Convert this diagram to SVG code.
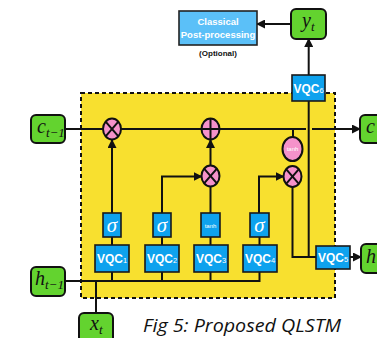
<svg xmlns="http://www.w3.org/2000/svg" width="377" height="338" viewBox="0 0 377 338">
<style>
.ln{fill:none;stroke:#111;stroke-width:2}
.arr{fill:none;stroke:#111;stroke-width:2;marker-end:url(#ah)}
.gn{fill:#63D32F;stroke:#111;stroke-width:2}
.vqc{fill:#0EA2EE;stroke:#1a1a1a;stroke-width:1.6}
.op{fill:#F592CA;stroke:#111;stroke-width:2}
.vt{font-family:"Liberation Sans",Arial,sans-serif;font-size:12px;font-weight:bold;fill:#fff;text-anchor:middle}
.sg{font-family:"Liberation Serif","DejaVu Serif",serif;font-style:italic;font-size:21px;fill:#fff;text-anchor:middle}
.th{font-family:"Liberation Sans",Arial,sans-serif;font-size:6px;fill:#fff;text-anchor:middle}
.mt{font-family:"Liberation Serif","DejaVu Serif",serif;font-style:italic;font-size:20px;fill:#111}
</style>
<defs>
<marker id="ah" markerUnits="userSpaceOnUse" markerWidth="9" markerHeight="9" refX="8" refY="4.5" orient="auto">
<path d="M0,0 L9,4.5 L0,9 z" fill="#111"/>
</marker>
<g id="mul"><ellipse class="op" cx="0" cy="0" rx="9" ry="10.5"/><path class="ln" d="M-6.4,-7.4 L6.4,7.4 M6.4,-7.4 L-6.4,7.4"/></g>
<g id="plus"><ellipse class="op" cx="0" cy="0" rx="9" ry="10.5"/><path class="ln" d="M0,-10.5 V10.5 M-9,0 H9"/></g>
</defs>

<rect x="81" y="93" width="254" height="205" fill="#F8E02F" stroke="#111" stroke-width="2" stroke-dasharray="4,3"/>

<g id="connectors">
<path class="arr" d="M65,129 H306 M312,129 H360"/>
<path class="arr" d="M112,213 V140"/>
<path class="ln" d="M112,245 V237"/>
<path class="arr" d="M162,213 V176.5 H201.5"/>
<path class="ln" d="M162,245 V237"/>
<path class="ln" d="M210.5,213 V187"/>
<path class="ln" d="M210.5,245 V237"/>
<path class="arr" d="M210.5,165.5 V140"/>
<path class="arr" d="M259,213 V176.5 H283.5"/>
<path class="ln" d="M259.5,245 V237"/>
<path class="ln" d="M293,129 V137"/>
<path class="ln" d="M292.5,187 V257 H316"/>
<path class="ln" d="M308.7,101 V257"/>
<path class="arr" d="M308.7,75 V39"/>
<path class="arr" d="M291,24 H257"/>
<path class="arr" d="M350,257 H361"/>
<path class="ln" d="M65,281 H259.5 V272 M112,272 V281 M162,272 V281 M210.5,272 V281"/>
<path class="ln" d="M96,313 V281"/>
</g>

<g id="c_prev"><rect class="gn" x="31" y="115" width="34" height="28" rx="5"/><text class="mt" x="37" y="133">c<tspan font-size="13" dy="4">t−1</tspan></text></g>
<g id="c_t"><rect class="gn" x="360" y="115" width="40" height="28" rx="5"/><text class="mt" x="366" y="133">c</text></g>
<g id="h_prev"><rect class="gn" x="31" y="267" width="34" height="29" rx="5"/><text class="mt" x="35" y="285">h<tspan font-size="13" dy="4">t−1</tspan></text></g>
<g id="h_t"><rect class="gn" x="361" y="244" width="40" height="29" rx="5"/><text class="mt" x="366" y="263">h</text></g>
<g id="x_t"><rect class="gn" x="79" y="313" width="34" height="32" rx="5"/><text class="mt" x="90" y="330">x<tspan font-size="13" dy="4">t</tspan></text></g>
<g id="y_t"><rect class="gn" x="291" y="9" width="35" height="30" rx="5"/><text class="mt" x="302" y="27">y<tspan font-size="13" dy="4">t</tspan></text></g>

<g id="classical"><rect x="179" y="11" width="78" height="34" fill="#5BC0F8" stroke="#222" stroke-width="1.6"/>
<text font-family="'Liberation Sans',Arial,sans-serif" font-size="9.5" font-weight="bold" fill="#fff" text-anchor="middle"><tspan x="218" y="25">Classical</tspan><tspan x="218" y="38">Post-processing</tspan></text>
<text x="218" y="56" font-family="'Liberation Sans',Arial,sans-serif" font-size="8" font-weight="bold" fill="#111" text-anchor="middle">(Optional)</text></g>

<g id="mul1"><use href="#mul" x="112" y="129"/></g>
<g id="plus1"><use href="#plus" x="210.5" y="129"/></g>
<g id="mul2"><use href="#mul" x="210.5" y="176"/></g>
<g id="mul3"><use href="#mul" x="292.5" y="176.5"/></g>
<g id="tanh_op"><ellipse class="op" cx="292.5" cy="149" rx="10" ry="12"/><text class="th" x="292.5" y="151">tanh</text></g>

<g id="sig1"><rect class="vqc" x="103" y="213" width="18" height="24"/><text class="sg" x="112" y="232">σ</text></g>
<g id="sig2"><rect class="vqc" x="153" y="213" width="18" height="24"/><text class="sg" x="162" y="232">σ</text></g>
<g id="tanh3"><rect class="vqc" x="201" y="213" width="19" height="24"/><text class="th" x="210.5" y="228">tanh</text></g>
<g id="sig4"><rect class="vqc" x="250" y="213" width="19" height="24"/><text class="sg" x="259.5" y="232">σ</text></g>

<g id="vqc1"><rect class="vqc" x="95" y="245" width="34" height="27"/><text class="vt" x="112" y="263">VQC<tspan font-size="7.5" font-weight="normal">1</tspan></text></g>
<g id="vqc2"><rect class="vqc" x="145" y="245" width="34" height="27"/><text class="vt" x="162" y="263">VQC<tspan font-size="7.5" font-weight="normal">2</tspan></text></g>
<g id="vqc3"><rect class="vqc" x="194" y="245" width="34" height="27"/><text class="vt" x="211" y="263">VQC<tspan font-size="7.5" font-weight="normal">3</tspan></text></g>
<g id="vqc4"><rect class="vqc" x="243" y="245" width="34" height="27"/><text class="vt" x="260" y="263">VQC<tspan font-size="7.5" font-weight="normal">4</tspan></text></g>
<g id="vqc5"><rect class="vqc" x="316" y="246" width="34" height="23"/><text class="vt" x="333" y="261.5">VQC<tspan font-size="7.5" font-weight="normal">5</tspan></text></g>
<g id="vqc6"><rect class="vqc" x="292" y="75" width="33" height="26"/><text class="vt" x="308.5" y="92.5">VQC<tspan font-size="7.5" font-weight="normal">6</tspan></text></g>

<text x="143" y="332" font-family="'Open Sans','Liberation Sans',sans-serif" font-style="italic" font-size="18" fill="#111" textLength="198" lengthAdjust="spacingAndGlyphs">Fig 5: Proposed QLSTM</text>
</svg>
